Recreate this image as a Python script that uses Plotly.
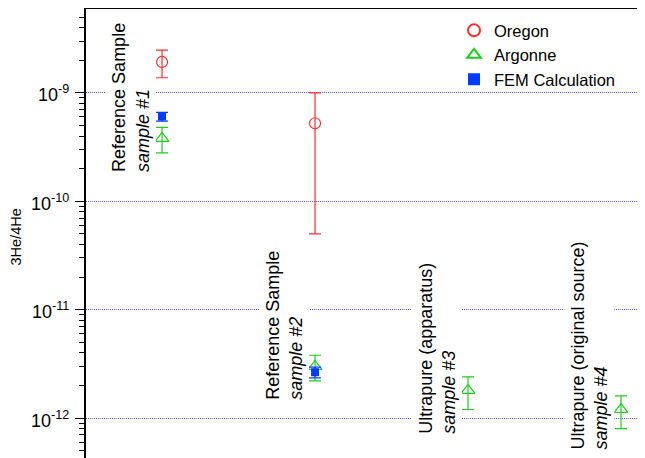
import plotly.graph_objects as go
import math

# ---- data ----
oregon_x = [1, 2]
oregon_y = [1.93e-9, 5.25e-10]
oregon_err = [0.55e-9, 4.75e-10]

argonne_x = [1, 2, 3, 4]
argonne_y = [3.8e-10, 3.0e-12, 1.8e-12, 1.2e-12]
argonne_err = [1.0e-10, 0.8e-12, 0.6e-12, 0.4e-12]

fem_x = [1, 2]
fem_y = [6.05e-10, 2.65e-12]
fem_err = [0.55e-10, 0.3e-12]

sample_names = ["Reference Sample", "Reference Sample",
                "Ultrapure (apparatus)", "Ultrapure (original source)"]
sample_tags = ["sample #1", "sample #2", "sample #3", "sample #4"]
label_bottom = [1.72e-10, 1.36e-12, 6.6e-13, 4.68e-13]

tick_vals = [1e-12, 1e-11, 1e-10, 1e-9]
tick_exps = ["-12", "-11", "-10", "-9"]

RED = "rgb(255,45,45)"
GREEN = "rgb(30,205,30)"
BLUE = "rgb(0,60,255)"
FONT = "Liberation Sans"

fig = go.Figure()
fig.add_trace(go.Scatter(
    x=oregon_x, y=oregon_y, mode="markers", name="Oregon",
    marker=dict(symbol="circle-open", size=11, color=RED, line=dict(width=1.2)),
    error_y=dict(type="data", array=oregon_err, color=RED, thickness=1.2, width=6)))
fig.add_trace(go.Scatter(
    x=argonne_x, y=argonne_y, mode="markers", name="Argonne",
    marker=dict(symbol="triangle-up-open", size=12, color=GREEN, line=dict(width=1.2)),
    error_y=dict(type="data", array=argonne_err, color=GREEN, thickness=1.2, width=6)))
fig.add_trace(go.Scatter(
    x=fem_x, y=fem_y, mode="markers", name="FEM Calculation",
    marker=dict(symbol="square", size=8, color=BLUE),
    error_y=dict(type="data", array=fem_err, color=BLUE, thickness=1.2, width=6)))

for i, (nm, tg, yb) in enumerate(zip(sample_names, sample_tags, label_bottom)):
    fig.add_annotation(
        x=i + 1 - 0.205, y=math.log10(yb), xref="x", yref="y",
        text=f"{nm}<br><i>{tg}</i>", textangle=-90, showarrow=False,
        xanchor="center", yanchor="bottom", align="left",
        bgcolor="white", borderpad=3,
        font=dict(family=FONT, size=18, color="black"))

# y tick labels (10^n) placed at the axis' tick values
for tv, ex in zip(tick_vals, tick_exps):
    fig.add_annotation(
        x=-(78 - 63) / 567, y=math.log10(tv), xref="paper", yref="y",
        text=f"10<sup>{ex}</sup>", showarrow=False, xanchor="right", yanchor="middle",
        yshift=-1, font=dict(family=FONT, size=18, color="black"))

# page body adds 8px offset; plot area spans figure px 78..645 horizontally
fig.add_annotation(
    x=-(78 - 7) / 567, y=0.5, xref="paper", yref="paper", text="3He/4He",
    textangle=-90, showarrow=False, xanchor="center", yanchor="middle",
    font=dict(family=FONT, size=14.5, color="black"))

fig.update_layout(
    width=645, height=458,
    margin=dict(l=78, r=0, t=1, b=0),
    plot_bgcolor="white", paper_bgcolor="white",
    font=dict(family=FONT, color="black"),
    showlegend=True,
    legend=dict(x=(446 - 78) / 567, y=0.991, xanchor="left", yanchor="top",
                bgcolor="rgba(0,0,0,0)", itemsizing="constant",
                font=dict(family=FONT, size=16.5)),
    xaxis=dict(range=[0.503, 4.209], side="top", showline=True, linecolor="black",
               linewidth=1.5, showgrid=False, zeroline=False, ticks="",
               showticklabels=False),
    yaxis=dict(type="log", range=[-12.442, -8.226], showline=True, linecolor="black",
               linewidth=1.5, ticks="outside", ticklen=9, tickwidth=1.2, tickcolor="black",
               tickmode="array", tickvals=tick_vals, showticklabels=False,
               showgrid=True, gridcolor="rgb(90,90,255)", griddash="1px,1px", gridwidth=1,
               zeroline=False,
               minor=dict(ticks="outside", ticklen=5, tickwidth=1.2, tickcolor="black",
                          dtick="D1", showgrid=False)),
)

fig.write_html("out.html")
